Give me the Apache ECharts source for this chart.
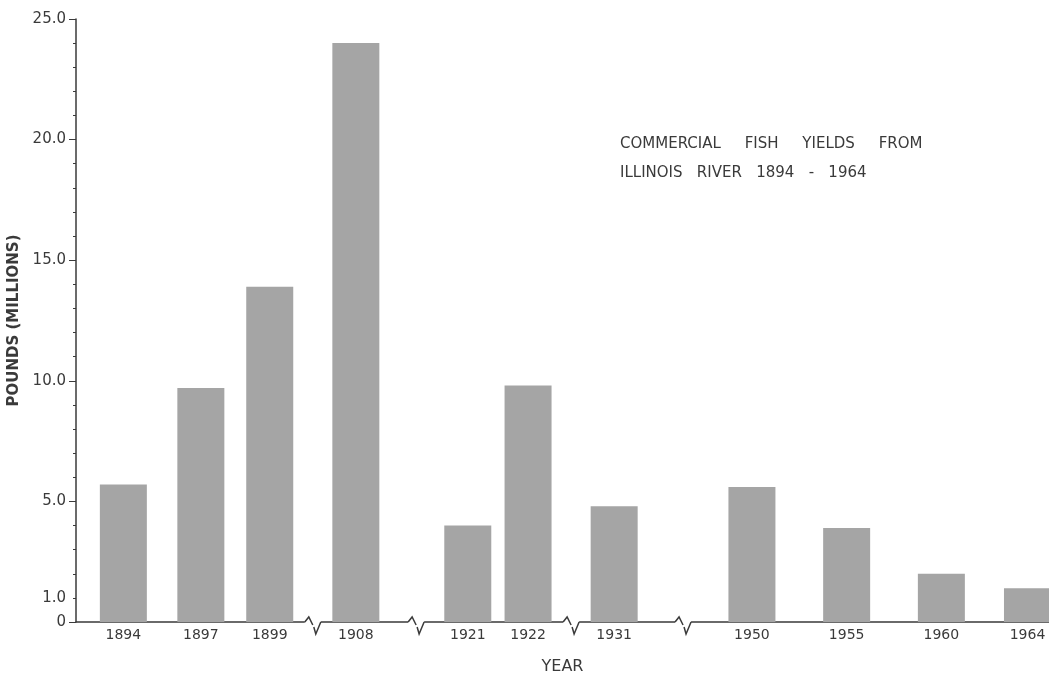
<!DOCTYPE html>
<html style="height: 100%">

<head>
    <meta charset="utf-8">
    <title>Commercial fish yields from Illinois River 1894-1964</title>
    <script type="text/javascript" src="https://cdn.jsdelivr.net/npm/echarts@6/dist/echarts.min.js"></script>
</head>

<body style="height: 100%; margin: 0; background: #fff">
    <div id="container" style="width: 1049px; height: 674px"></div>

    <script type="text/javascript">
        // data (millions of pounds)
        var years = ['1894', '1897', '1899', '1908', '1921', '1922', '1931', '1950', '1955', '1960', '1964'];
        var pounds = [5.7, 9.7, 13.9, 24.0, 4.0, 9.8, 4.8, 5.6, 3.9, 2.0, 1.4];
        // y labels that are printed on the axis
        var yLabelled = [0, 1, 5, 10, 15, 20, 25];

        // layout: slot of each bar on the (uneven) year axis, and where the axis breaks sit
        var lead = 5;
        var slotOf = [0, 9, 17, 27, 40, 47, 57, 73, 84, 95, 105];
        var breakSlots = [22, 34, 52, 65];
        var totalSlots = 113;

        var cats = [];
        var barData = [];
        for (var i = 0; i < totalSlots; i++) {
            cats.push('');
            barData.push(null);
        }
        for (var k = 0; k < years.length; k++) {
            cats[lead + slotOf[k]] = years[k];
            barData[lead + slotOf[k]] = pounds[k];
        }
        var breakData = breakSlots.map(function (s) { return [lead + s, 0]; });

        var ink = '#3a3a3a';
        var font = 'DejaVu Sans';

        function draw() {
            var myChart = echarts.init(document.getElementById('container'));
            var option = {
                backgroundColor: '#ffffff',
                animation: false,
                grid: {
                    left: 76,
                    right: 0,
                    top: 19,
                    bottom: 52,
                    outerBoundsMode: 'none'   // keep the plot box exactly where it is set
                },
                // caption inside the plot
                graphic: [{
                    type: 'text',
                    left: 620,
                    top: 130,
                    style: {
                        text: 'COMMERCIAL     FISH     YIELDS     FROM\nILLINOIS   RIVER   1894   -   1964',
                        font: '15px "DejaVu Sans"',
                        fill: ink,
                        lineHeight: 29
                    }
                }],
                xAxis: {
                    type: 'category',
                    data: cats,
                    name: 'YEAR',
                    nameLocation: 'middle',
                    nameGap: 37,
                    nameTextStyle: { color: ink, fontFamily: font, fontSize: 16 },
                    axisLine: { lineStyle: { color: ink, width: 1.5 } },
                    axisTick: { show: false },
                    axisLabel: {
                        interval: 0,
                        color: ink,
                        fontFamily: font,
                        fontSize: 14,
                        margin: 6
                    }
                },
                yAxis: [{
                    type: 'value',
                    min: 0,
                    max: 25,
                    interval: 1,
                    name: 'POUNDS (MILLIONS)',
                    nameLocation: 'middle',
                    nameGap: 50,
                    nameTextStyle: { color: ink, fontFamily: font, fontSize: 15, fontWeight: 'bold' },
                    axisLine: { show: true, lineStyle: { color: ink, width: 1.5 } },
                    axisTick: { show: true, length: 3, lineStyle: { color: ink } },
                    splitLine: { show: false },
                    axisLabel: {
                        color: ink,
                        fontFamily: font,
                        fontSize: 15,
                        margin: 10,
                        formatter: function (v) {
                            if (yLabelled.indexOf(v) < 0) return '';
                            return v === 0 ? '0' : v.toFixed(1);
                        }
                    }
                }, {
                    // longer ticks at the labelled steps
                    type: 'value',
                    position: 'left',
                    min: 0,
                    max: 25,
                    interval: 5,
                    axisLine: { show: false },
                    axisTick: { show: true, length: 7, lineStyle: { color: ink } },
                    axisLabel: { show: false },
                    splitLine: { show: false }
                }],
                series: [{
                    type: 'bar',
                    data: barData,
                    barWidth: 47,
                    itemStyle: { color: '#a5a5a5' }
                }, {
                    // axis break marks
                    type: 'custom',
                    data: breakData,
                    z: 5,
                    renderItem: function (params, api) {
                        var p = api.coord([api.value(0), 0]);
                        var x = p[0], y = p[1];
                        var st = { stroke: ink, lineWidth: 1.5, fill: null };
                        return {
                            type: 'group',
                            children: [
                                { type: 'rect', shape: { x: x - 8, y: y - 2, width: 16, height: 4 }, style: { fill: '#fff' } },
                                { type: 'polyline', shape: { points: [[x - 8, y], [x - 4, y - 5], [x, y + 3]] }, style: st },
                                { type: 'polyline', shape: { points: [[x + 1, y + 5], [x + 3, y + 12], [x + 8, y]] }, style: st }
                            ]
                        };
                    }
                }]
            };
            myChart.setOption(option, true);
        }
        draw();
    </script>
</body>

</html>
